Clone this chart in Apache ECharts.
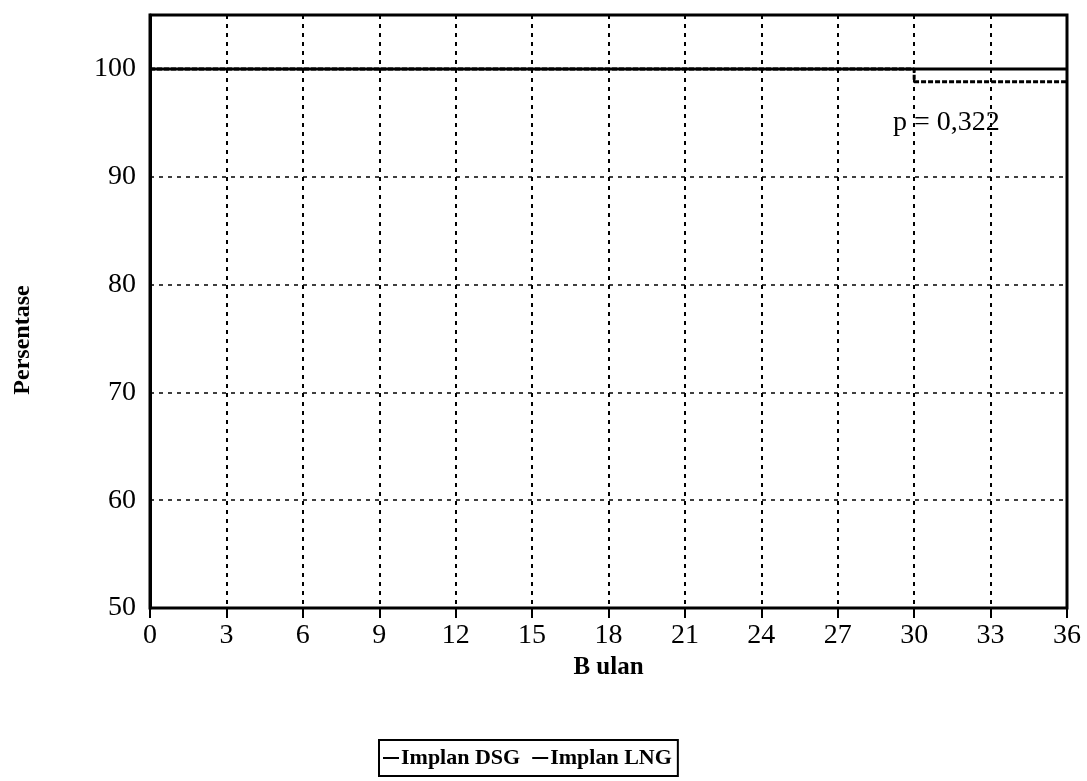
<!DOCTYPE html>
<html><head><meta charset="utf-8">
<script src="https://cdn.jsdelivr.net/npm/echarts@6/dist/echarts.min.js"></script>
<style>html,body{margin:0;padding:0;background:#fff}#c{width:1087px;height:781px}</style>
</head><body><div id="c"></div>
<script>
const months = [0, 30, 36];
const dsgValues = [100, 100, 100];
const lngValues = [100, 98.8, 98.8];
const seriesNames = ['Implan DSG', 'Implan LNG'];
const pText = 'p = 0,322';
const yTitle = 'Persentase';
const xTitle = 'B ulan';

const font = '"Liberation Serif", "Times New Roman", serif';
const chart = echarts.init(document.getElementById('c'));
chart.setOption({
  animation: false,
  backgroundColor: '#fff',
  grid: { left: 150, right: 20, top: 15, bottom: 173, show: true, borderColor: '#000', borderWidth: 3 },
  legend: {
    data: seriesNames, bottom: 5, left: 379, itemWidth: 16, itemHeight: 2, itemGap: 12,
    icon: 'rect',
    borderColor: '#000', borderWidth: 2, padding: [7, 6, 7, 4], borderRadius: 0,
    textStyle: { fontFamily: font, fontSize: 22, fontWeight: 'bold', color: '#000', padding: [0, 0, 0, -3] }
  },
  xAxis: {
    type: 'value', min: 0, max: 36, interval: 3,
    name: xTitle, nameLocation: 'middle', nameGap: 47,
    nameTextStyle: { fontFamily: font, fontSize: 25, fontWeight: 'bold', color: '#000' },
    axisLine: { show: true, onZero: false, lineStyle: { color: '#000', width: 2 } },
    axisTick: { show: true, inside: false, length: 10, lineStyle: { color: '#000', width: 2 } },
    axisLabel: { margin: 14, fontFamily: font, fontSize: 28, color: '#000' },
    splitLine: { show: true, lineStyle: { color: '#000', type: [4, 5], width: 2 } }
  },
  yAxis: {
    type: 'value', min: 50, max: 105, interval: 10,
    axisLine: { show: true, lineStyle: { color: '#000', width: 3 } },
    axisTick: { show: false },
    axisLabel: { margin: 14, fontFamily: font, fontSize: 28, color: '#000',
      formatter: v => (v > 100 ? '' : String(v)) },
    splitLine: { show: true, lineStyle: { color: '#000', type: [4, 5], width: 1.5 } }
  },
  series: [
    { name: seriesNames[0], type: 'line', step: 'end', symbol: 'none',
      data: months.map((m, i) => [m, dsgValues[i]]),
      lineStyle: { color: '#000', width: 3 }, itemStyle: { color: '#000' }, z: 3 },
    { name: seriesNames[1], type: 'line', step: 'end', symbol: 'none',
      data: months.map((m, i) => [m, lngValues[i]]),
      lineStyle: { color: '#000', width: 3, type: [5, 2] }, itemStyle: { color: '#000' }, z: 2 }
  ],
  graphic: [
    { type: 'text', left: 893, top: 109,
      style: { text: pText, fontFamily: font, fontSize: 28, fill: '#000' } },
    { type: 'text', x: 23, y: 340, rotation: Math.PI / 2,
      style: { text: yTitle, fontFamily: font, fontSize: 24, fontWeight: 'bold', fill: '#000',
        align: 'center', verticalAlign: 'middle' } }
  ]
});
</script></body></html>
